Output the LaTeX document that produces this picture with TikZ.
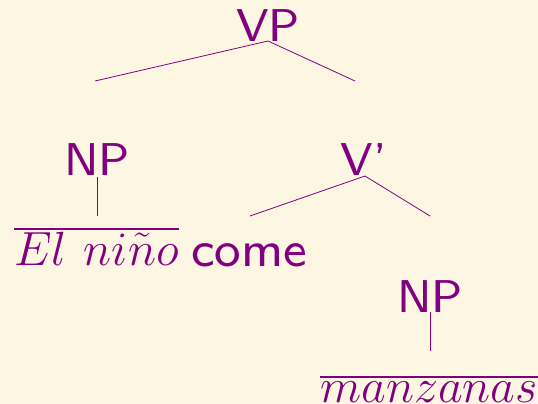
\documentclass[tikz,border=0pt]{standalone}
\usepackage{fix-cm}
\usepackage{fontspec}
\newfontfamily\treesans{lmsans8-regular.otf}
\definecolor{paper}{HTML}{FDF6E3}
\definecolor{ink}{HTML}{800080}
\tikzset{
  lbl/.style={text=ink, inner sep=0pt, anchor=base, font=\treesans\fontsize{46}{55}\selectfont},
  word/.style={text=ink, inner sep=0pt, font=\fontsize{48}{58}\selectfont},
  edge/.style={draw=ink, line width=0.8pt},
  bar/.style={draw=ink, line width=1.9pt}
}
\begin{document}
\begin{tikzpicture}[x=1pt, y=-1pt]
  \fill[paper] (0,0) rectangle (538,404);
  \useasboundingbox (0,0) rectangle (538,404);

  % category labels
  \node[lbl] (vp) at (268,42) {VP};
  \node[lbl] (np1) at (97,175) {NP};
  \node[lbl] (vbar) at (364,175) {V’};
  \node[lbl] (np2) at (430,312) {NP};

  % words
  \node[word, anchor=base west] (elnino) at (14,265) {$El\ \mskip1mu ni\tilde{n}o$};
  \node[lbl, anchor=base west, font=\treesans\fontsize{50}{60}\selectfont] (come) at (191,266) {come};
  \node[word, anchor=base east] (manz) at (538,402) {$manzanas$};

  % branch points
  \coordinate (vpa) at (268,41);
  \coordinate (vpl) at (95,81);
  \coordinate (vpr) at (355,81);
  \coordinate (va) at (365,176);
  \coordinate (vl) at (250,216);
  \coordinate (vr) at (430,216);

  \draw[edge] (vpl) -- (vpa) -- (vpr);
  \draw[edge] (vl) -- (va) -- (vr);

  % unary stems
  \draw[edge] (np1.south) ++(0,2) coordinate (s1) -- ++(0,39);
  \draw[edge] (np2.south) ++(0,0) coordinate (s2) -- ++(0,39);

  % bars over the lexical material
  \path (elnino.base west) ++(0,-36) coordinate (b1);
  \draw[bar] (b1) -- (b1 -| elnino.east);
  \path (manz.base west) ++(0,-25) coordinate (b2);
  \draw[bar] (b2) -- (b2 -| manz.east);
\end{tikzpicture}
\end{document}
